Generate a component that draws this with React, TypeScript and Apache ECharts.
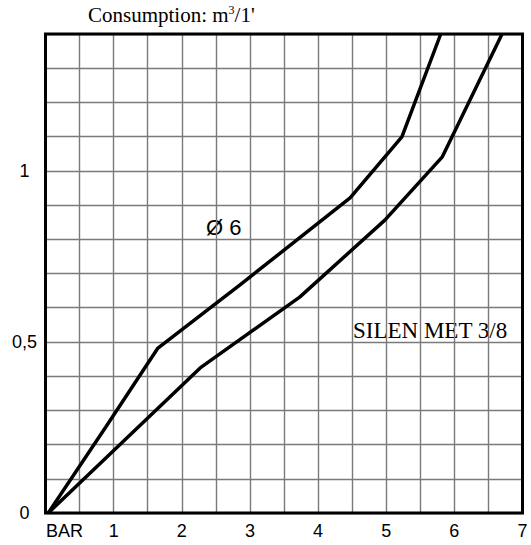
import React, { useEffect, useRef } from "react";
import * as echarts from "echarts";

const upperCurve: [number, number][] = [
  [0.04, 0],
  [0.88, 0.25],
  [1.65, 0.482],
  [2.85, 0.666],
  [4.47, 0.921],
  [5.23, 1.099],
  [5.8, 1.4],
];
const lowerCurve: [number, number][] = [
  [0.04, 0],
  [2.27, 0.424],
  [3.73, 0.631],
  [4.98, 0.856],
  [5.82, 1.04],
  [6.7, 1.4],
];
const xMin = 0;
const xMax = 7;
const xStep = 0.5;
const yMin = 0;
const yMax = 1.4;
const yStep = 0.1;
const titleText = "Consumption: m{sup|3}/1'";
const diameterText = "Ø 6";
const productText = "SILEN MET 3/8";

export default function App() {
  const ref = useRef<HTMLDivElement>(null);
  useEffect(() => {
    if (!ref.current) return;
    const chart = echarts.init(ref.current, undefined, { renderer: "svg" });
    const sans = "Liberation Sans, Arial, sans-serif";
    const serif = "Liberation Serif, Times New Roman, serif";
    chart.setOption({
      animation: false,
      backgroundColor: "#fff",
      grid: {
        show: true,
        left: 45.5,
        right: 8.5,
        top: 34,
        bottom: 32,
        borderColor: "#000",
        borderWidth: 3,
        backgroundColor: "transparent",
        z: 5,
      },
      xAxis: {
        type: "value",
        min: xMin,
        max: xMax,
        interval: xStep,
        axisLine: { show: false },
        axisTick: { show: false },
        splitLine: { show: true, lineStyle: { color: "#7a7a7a", width: 1.4 } },
        axisLabel: {
          interval: 0,
          margin: 9,
          color: "#000",
          fontFamily: sans,
          fontSize: 18,
          showMinLabel: true,
          showMaxLabel: true,
          formatter: (v: number) => {
            if (Math.abs(v) < 1e-9) return "{b|BAR}";
            return Math.abs(v - Math.round(v)) < 1e-9 ? String(Math.round(v)) : "";
          },
          rich: {
            b: { fontFamily: sans, fontSize: 18, color: "#000", padding: [0, 0, 0, 38] },
          },
        },
      },
      yAxis: {
        type: "value",
        min: yMin,
        max: yMax,
        interval: yStep,
        axisLine: { show: false },
        axisTick: { show: false },
        splitLine: { show: true, lineStyle: { color: "#7a7a7a", width: 1.4 } },
        axisLabel: {
          margin: 21,
          align: "center",
          color: "#000",
          fontFamily: sans,
          fontSize: 18,
          showMinLabel: true,
          showMaxLabel: true,
          formatter: (v: number) => {
            const t = Math.round(v * 10);
            if (t % 5 !== 0 || t > 10) return "";
            return String(t / 10).replace(".", ",");
          },
        },
      },
      series: [
        {
          type: "line",
          data: upperCurve,
          symbol: "none",
          lineStyle: { color: "#000", width: 3.5 },
          clip: true,
          z: 3,
        },
        {
          type: "line",
          data: lowerCurve,
          symbol: "none",
          lineStyle: { color: "#000", width: 3.5 },
          clip: true,
          z: 3,
        },
      ],
      graphic: [
        {
          type: "text",
          left: 88,
          top: 4,
          style: {
            text: titleText,
            fontFamily: serif,
            fontSize: 21,
            fill: "#000",
            rich: {
              sup: { fontFamily: serif, fontSize: 12, verticalAlign: "top", padding: [0, 0, 8, 0] },
            },
          },
        },
        {
          type: "text",
          left: 206,
          top: 216,
          style: { text: diameterText, fontFamily: sans, fontSize: 22, fill: "#000" },
        },
        {
          type: "text",
          left: 353,
          top: 319,
          style: { text: productText, fontFamily: serif, fontSize: 23, fill: "#000" },
        },
      ],
    });
    return () => chart.dispose();
  }, []);
  return (
    <div
      ref={ref}
      style={{ position: "fixed", left: 0, top: 0, width: 531, height: 545 }}
    />
  );
}
